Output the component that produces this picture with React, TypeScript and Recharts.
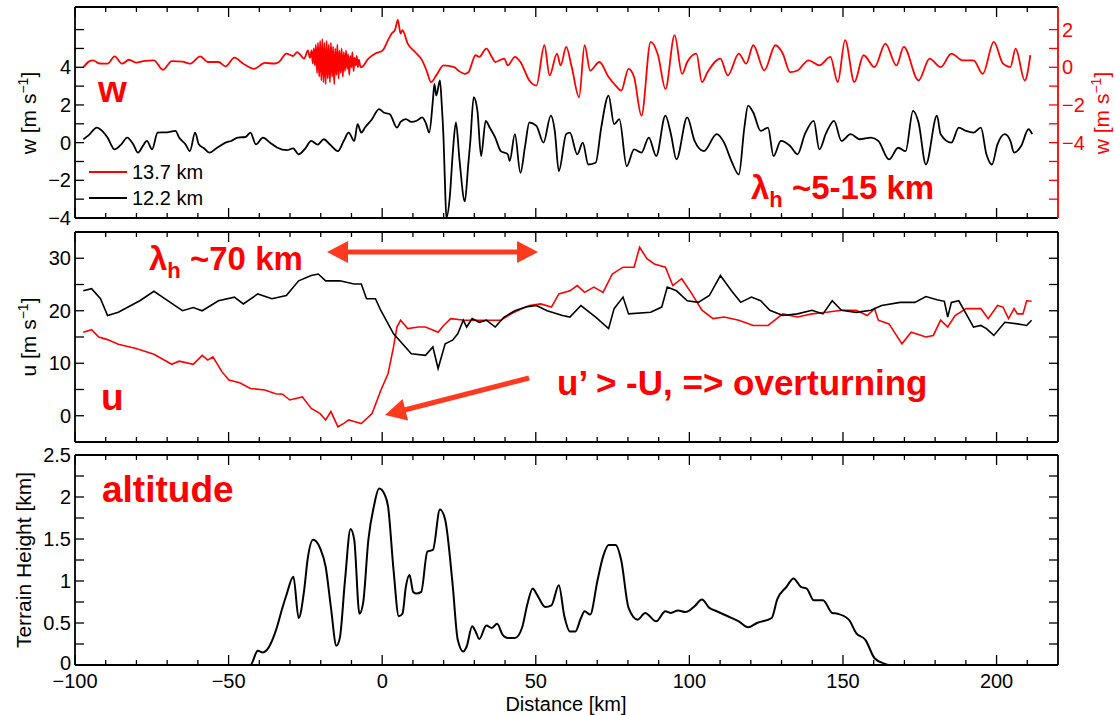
import React from "react";
import { LineChart, Line, XAxis, YAxis } from "recharts";

type Pt = [number, number];

const FONT = "'Liberation Sans', Arial, Helvetica, sans-serif";
const RED = "#ff0000";
const ARROW = "#ff3a1e";

// axes
const DISTANCE_DOMAIN = [-100, 220];
const DISTANCE_TICKS = [-100, -90, -80, -70, -60, -50, -40, -30, -20, -10, 0, 10, 20, 30, 40, 50, 60, 70, 80, 90, 100, 110, 120, 130, 140, 150, 160, 170, 180, 190, 200, 210];
const DISTANCE_LABELS = [-100, -50, 0, 50, 100, 150, 200];
const W_LEFT_TICKS = [-4, -3, -2, -1, 0, 1, 2, 3, 4, 5, 6];
const W_LEFT_LABELS = [-4, -2, 0, 2, 4];
const W_RIGHT_TICKS = [-7, -6, -5, -4, -3, -2, -1, 0, 1, 2];
const W_RIGHT_LABELS = [-4, -2, 0, 2];
const U_TICKS = [0, 5, 10, 15, 20, 25, 30];
const U_LABELS = [0, 10, 20, 30];
const Z_TICKS = [0, 0.25, 0.5, 0.75, 1, 1.25, 1.5, 1.75, 2, 2.25, 2.5];
const Z_LABELS = [0, 0.5, 1, 1.5, 2, 2.5];

// w at 12.2 km (left axis)
const W_122: Pt[] = [
  [-97.3, 0.18], [-95.5, 0.4], [-92.9, 0.8], [-91, 0.6], [-89.4, 0.27], [-87.1, -0.36], [-85, -0.1], [-83, 0.27], [-81, -0.1], [-79.5, -0.53],
  [-78, -0.2], [-76.6, 0.09], [-74.9, -0.36], [-73.1, 0.53], [-70, 0.55], [-67.3, 0.62], [-66.1, 0.27], [-64, -0.1], [-62.6, -0.45], [-60.9, 0.53],
  [-59.7, -0.09], [-58, -0.3], [-56.2, -0.53], [-54, -0.3], [-51, 0], [-49, 0.1], [-47, 0.27], [-44.5, 0.3], [-42.9, 0.53], [-41.1, -0.09],
  [-38.8, 0.27], [-36.5, 0], [-34.1, -0.27], [-31, -0.4], [-29, -0.3], [-27.2, -0.62], [-25, -0.3], [-23.1, 0.09], [-21, -0.1], [-19, 0.18],
  [-17, -0.1], [-14.4, -0.45], [-12.5, 0.1], [-10.9, 0.53], [-9.1, 0.09], [-8, 0.98], [-6.8, 0.53], [-5.6, 0.8], [-3.5, 1.2], [-1, 1.78],
  [0.5, 1.6], [2.5, 1.51], [4.8, 0.8], [6, 1.1], [7.7, 1.25], [9.5, 1.1], [11.2, 1.16], [13, 1.34], [14.3, 1.0], [15.3, 0.53],
  [16.5, 2.23], [17, 3.12], [17.6, 2.5], [18.8, 3.3], [19.4, 2.0], [20, 0.09], [20.5, -2.5], [20.9, -4.0], [22, -2.9], [23, -0.5],
  [24, 1.07], [25.2, -0.98], [26.9, -3.12], [28, -1.2], [28.7, 0.09], [29.8, 2.41], [31, 1.69], [32.2, -0.71], [33.7, 1.16], [35, 0.8],
  [36.8, 0.27], [38.6, -0.45], [40.9, -0.62], [41.5, -0.98], [43.2, 0.45], [45, -1.6], [46.5, -0.2], [47.9, 1.07], [50.2, 0.89], [52.5, 0],
  [54.9, 1.43], [56.2, 0.6], [57.5, -1.51], [59.9, 0.45], [61.1, 0.53], [63.5, -0.62], [65.3, 0], [67.1, -1.16], [69.5, -1.07], [71.3, 0.8],
  [73.7, 2.5], [75.5, 0.98], [77.2, 1.25], [79.6, -1.25], [82, -0.36], [84.4, -0.53], [86.8, 0.27], [89.2, -0.71], [92.2, 1.43], [94, 0.45],
  [95.8, -0.89], [99.3, 1.34], [101.7, 0.09], [104.7, -0.45], [108.9, 0.45], [111.3, 0], [113.7, -0.98], [116.1, -1.69], [117.9, 0.8], [119.1, 1.96],
  [120.8, 1.6], [123.2, 0.62], [125.6, 0.8], [127.4, -0.71], [129.8, 0.09], [132.8, -0.18], [135.2, -0.62], [137.6, 0.45], [140.5, 1.16], [142.3, -0.36],
  [144.5, 0.5], [147.1, 1.16], [149.5, 0.09], [152.5, 0.45], [155.5, 0.18], [159.1, 0.27], [161.5, 0.09], [165, -0.89], [168, -0.27], [170.4, -0.45],
  [172.8, 1.69], [174.6, 1.07], [177, -1.16], [180.6, 1.43], [181.8, 0.45], [185.3, 0], [187.7, 0.8], [190.1, 0.62], [192.5, 0.53], [194.9, 0.8],
  [196.7, -0.62], [198.5, -1.16], [200.3, -0.09], [202.7, 0.45], [204.5, 0.09], [205.7, -0.53], [208, -0.18], [210.4, 0.71], [211.6, 0.45],
];

// w at 13.7 km (right axis)
const W_137: Pt[] = [
  [-97.3, 0.0], [-95.5, 0.3], [-94.1, 0.37], [-92, 0.2], [-89.4, 0.19], [-87.1, 0.58], [-84.7, 0.19], [-82.4, 0.4], [-80, 0.25], [-77.8, 0.33],
  [-74.3, 0.37], [-71.4, -0.13], [-68.5, 0.33], [-65, 0.3], [-62.6, 0.19], [-59.2, 0.58], [-56.8, 0.28], [-53.3, 0.28], [-51, 0.05], [-48.1, 0.51],
  [-45.2, 0.19], [-41.7, -0.08], [-38.2, 0.23], [-35, 0.2], [-33.6, 0.28], [-31.2, 0.73], [-29, 0.6], [-27.7, 0.81], [-25.4, 0.46], [-24.2, 0.9],
  [-23.5, 0.5], [-23, 0.9], [-22.6, 0.2], [-22.3, 1.0], [-21.9, 0.1], [-21.6, 1.2], [-21.2, -0.3], [-20.9, 1.3], [-20.5, -0.5], [-20.2, 1.4],
  [-19.8, -0.7], [-19.5, 1.5], [-19.1, -0.8], [-18.8, 1.3], [-18.4, -0.9], [-18.1, 1.4], [-17.7, -0.6], [-17.4, 1.2], [-17, -0.8], [-16.7, 1.3],
  [-16.3, -0.5], [-16, 1.1], [-15.6, -0.9], [-15.3, 1.0], [-14.9, -0.4], [-14.6, 1.2], [-14.2, -0.6], [-13.9, 0.9], [-13.5, -0.3], [-13.2, 1.0],
  [-12.8, -0.5], [-12.5, 0.8], [-12.1, -0.2], [-11.8, 0.9], [-11.4, -0.1], [-11.1, 0.7], [-10.7, -0.4], [-10.4, 0.6], [-10, 0.0], [-9.7, 0.8],
  [-9.3, -0.2], [-9, 0.5], [-8.6, 0.1], [-8.3, 0.6], [-7.9, 0.0], [-7.6, 0.4], [-7.2, 0.1], [-6.8, 0.0], [-4.5, 0.46], [-2.2, 0.73],
  [0.2, 0.9], [1.9, 1.44], [3.1, 1.79], [4.2, 2.0], [5.1, 2.51], [6, 1.79], [6.6, 1.97], [8.3, 1.26], [10.7, 0.81], [13, 0.37],
  [14.5, -0.2], [15.9, -0.79], [17.6, -0.43], [20, 0.1], [23.4, 0.01], [25, -0.2], [26.9, -0.35], [28.1, -0.26], [30.4, 0.64], [31.6, 0.55],
  [33.9, 0.99], [35.7, 0.55], [36.8, 0.28], [39.7, 0.46], [40.9, 0.1], [43.2, 0.55], [45, 0.28], [47.9, -0.7], [50.2, -0.97], [52.8, 1.17],
  [54.5, -0.43], [56.9, 0.73], [58.1, 0.1], [59.9, 1.08], [61.7, 0.01], [64.1, -1.59], [65.9, 1.17], [67.7, -0.17], [70.7, 0.28], [73.7, -0.52],
  [76, -0.97], [77.8, -1.24], [80.2, -0.08], [82, -0.52], [84.4, -2.57], [87.4, 1.35], [89.8, 0.64], [92.2, -1.15], [95.2, 1.71], [97.6, -0.35],
  [99.3, 0.28], [102.3, 0.73], [104.1, -0.79], [105.9, -0.26], [110.1, 0.46], [112.5, -0.43], [116.1, 0.73], [118.5, 0.19], [120.8, 1.17], [124.4, -0.17],
  [128, 1.17], [130.4, 0.73], [132.8, -0.26], [135.2, -0.17], [138.8, 0.37], [142.3, 0.1], [145.9, 0.55], [148.3, -0.79], [150.7, 1.44], [153.7, -0.79],
  [156.7, 0.64], [160.3, 0.01], [163.8, 1.26], [167.4, 0.1], [169.8, 1.08], [174.6, -0.7], [178.2, 0.46], [181.8, 0.01], [185.3, 0.73], [188.9, 0.37],
  [192.5, 0.37], [195.5, -0.35], [199.1, 1.35], [202.1, 0.19], [204.5, 0.01], [206.2, 0.99], [209.2, -0.7], [211, 0.64],
];

// u at 12.2 km
const U_122: Pt[] = [
  [-97.3, 23.8], [-94.6, 24.2], [-91.7, 22.3], [-89.4, 19.1], [-85.9, 19.7], [-78.9, 21.9], [-74.3, 23.7], [-70.8, 22.3], [-65, 20.0], [-61.5, 20.6],
  [-58.6, 20.0], [-53.3, 21.9], [-48.1, 22.6], [-45.2, 21.3], [-40.5, 23.2], [-35.9, 22.3], [-31.2, 22.9], [-27.2, 25.7], [-23.1, 26.7], [-20.8, 27.0],
  [-18.4, 25.7], [-13.8, 25.7], [-9.1, 25.1], [-6.8, 25.1], [-5.1, 22.3], [-2.2, 22.3], [-0.4, 20.0], [3.7, 15.6], [6.6, 13.7], [9.5, 11.8],
  [14.1, 11.5], [16.5, 13.1], [18.2, 9.0], [20.5, 13.7], [22.9, 14.4], [24.6, 15.6], [26.4, 18.2], [27.5, 16.9], [29.3, 18.5], [31.6, 17.8],
  [33.9, 18.2], [36.8, 16.9], [39.7, 18.8], [43.2, 20.0], [46.7, 20.7], [50.2, 21.0], [53.7, 20.0], [58.7, 19.1], [61.1, 18.8], [64.7, 21.0],
  [69.5, 18.8], [73.7, 16.6], [75.5, 20.4], [78.4, 22.6], [80.2, 19.4], [87.4, 19.7], [91, 20.7], [92.8, 24.5], [95.8, 23.8], [99.3, 21.9],
  [102.9, 21.6], [106.5, 22.9], [110.1, 26.7], [113.7, 23.8], [116.7, 21.6], [120.2, 22.6], [123.2, 21.9], [126.2, 20.1], [130.4, 19.1], [135.2, 19.4],
  [139.9, 20.1], [143.5, 19.4], [146.5, 21.9], [149.5, 20.1], [154.3, 19.7], [159.1, 20.1], [162.6, 21.0], [168.6, 21.6], [173.4, 21.6], [177, 22.7],
  [180.6, 22.1], [183, 21.8], [184.1, 18.8], [185.3, 21.6], [187.7, 21.9], [190.1, 19.4], [192.5, 16.9], [194.9, 17.2], [196.7, 16.6], [199.1, 15.3],
  [202.7, 17.8], [206.8, 17.5], [209.8, 17.2], [211.4, 18.2],
];

// u at 13.7 km
const U_137: Pt[] = [
  [-97.3, 15.9], [-94.6, 16.4], [-92.3, 15.0], [-89.4, 14.5], [-85.9, 13.6], [-80.1, 12.8], [-74.3, 11.7], [-68.5, 9.8], [-66.1, 10.4], [-61.5, 9.8],
  [-58.6, 11.5], [-56.8, 10.6], [-55.1, 11.2], [-52.2, 8.4], [-49.9, 6.8], [-46.4, 6.3], [-42.9, 5.2], [-38.2, 4.9], [-34.7, 4.2], [-32.4, 4.1],
  [-30.1, 3.0], [-26, 3.6], [-23.1, 1.4], [-20.2, 0.4], [-18.4, -0.8], [-16.7, 0.8], [-14.4, -2.1], [-12.6, -1.5], [-10.9, -0.8], [-9.1, -1.1],
  [-6.8, -1.5], [-3.3, 0.4], [-0.4, 4.9], [1.9, 8.0], [3.7, 13.1], [4.8, 16.9], [6, 18.2], [8.3, 16.6], [11.8, 16.9], [14.1, 16.9],
  [18.2, 15.9], [20, 17.2], [22.3, 18.5], [26.9, 18.2], [32.7, 18.2], [38.6, 18.2], [42, 19.4], [45.5, 20.4], [47.9, 21.0], [51.6, 21.3],
  [55.1, 20.7], [57.5, 23.2], [61.1, 23.8], [63.5, 24.8], [65.9, 23.5], [68.9, 24.5], [71.9, 23.5], [74.9, 27.0], [78.4, 28.3], [82, 28.3],
  [83.8, 32.1], [86.2, 29.9], [88.6, 28.9], [92.2, 28.3], [94.6, 24.8], [97.5, 26.1], [100.5, 23.5], [104.1, 20.1], [107.7, 18.5], [111.3, 18.8],
  [116.1, 18.2], [120.8, 17.2], [125.6, 17.2], [130.4, 19.4], [135.2, 18.8], [139.9, 19.4], [144.7, 19.7], [149.5, 20.1], [154.3, 20.1], [157.9, 19.1],
  [160.3, 20.4], [161.5, 18.2], [165, 17.5], [169.2, 13.7], [172.2, 15.9], [177, 15.0], [179.4, 15.3], [181.8, 18.2], [184.1, 16.9], [186.5, 19.1],
  [190.1, 20.4], [194.9, 20.4], [197.3, 18.5], [200.3, 21.0], [202.1, 20.7], [203.9, 18.5], [205.7, 20.4], [206.8, 19.4], [208.6, 19.4], [209.8, 21.9],
  [211.4, 21.8],
];

// terrain height (km)
const TERRAIN: Pt[] = [
  [-97.3, 0], [-42.9, 0], [-40.5, 0.17], [-38.8, 0.15], [-37.1, 0.2], [-34.7, 0.4], [-32.4, 0.69], [-31.2, 0.83], [-28.9, 1.05], [-27.2, 0.56],
  [-25.4, 0.89], [-24.3, 1.25], [-22.5, 1.49], [-20.2, 1.39], [-18.4, 1.17], [-16.7, 0.69], [-14.9, 0.23], [-13.8, 0.32], [-12.1, 1.01], [-10.3, 1.62],
  [-9.1, 1.49], [-7.4, 0.61], [-6.2, 0.74], [-4.5, 1.49], [-2.7, 1.89], [-1, 2.1], [0.8, 2.03], [1.9, 1.89], [3.7, 1.13], [5.4, 0.58],
  [6.6, 0.61], [7.7, 0.93], [8.9, 1.07], [10.1, 0.87], [11.2, 0.85], [12.7, 0.87], [14.7, 1.35], [16.5, 1.37], [18.8, 1.85], [20.5, 1.73],
  [22.9, 0.97], [24.6, 0.3], [26.4, 0.16], [27.5, 0.22], [29.3, 0.46], [30.4, 0.4], [31.6, 0.31], [33.9, 0.47], [35.7, 0.44], [37.4, 0.49],
  [39.2, 0.36], [40.9, 0.32], [43.2, 0.32], [45.5, 0.44], [47.3, 0.73], [49, 0.91], [50.2, 0.85], [53.1, 0.69], [55.1, 0.71], [57.5, 0.95],
  [59.3, 0.58], [61.1, 0.4], [62.9, 0.4], [64.7, 0.56], [65.9, 0.64], [67.7, 0.6], [70.1, 1.01], [71.9, 1.29], [73.7, 1.43], [76, 1.43],
  [77.8, 1.25], [80.2, 0.68], [83.2, 0.54], [85.6, 0.62], [89.2, 0.52], [92.2, 0.64], [94, 0.62], [96.3, 0.65], [98.7, 0.63], [101.7, 0.7],
  [104.1, 0.78], [106.5, 0.68], [108.9, 0.64], [112.5, 0.58], [116.1, 0.52], [119.1, 0.45], [122, 0.5], [126.8, 0.56], [128.6, 0.78], [131.6, 0.93],
  [133.9, 1.03], [136.3, 0.93], [138.2, 0.91], [140.5, 0.77], [143.5, 0.77], [146.5, 0.62], [148.3, 0.61], [151.9, 0.54], [154.3, 0.38], [157.3, 0.3],
  [160.3, 0.08], [163.2, 0.02], [165, 0], [211.6, 0],
];

const rows = (pts: Pt[]) => pts.map(([x, y]) => ({ x, y }));
const fmt = (v: number) => (v < 0 ? "\u2212" + Math.abs(v) : String(v));

const PLOT_LEFT = 75;
const PLOT_RIGHT = 1058;
const PAGE_W = 1115;
const PAGE_H = 715;

function XTick(props: any) {
  const { x, y, payload, side, labels } = props;
  const v = payload.value;
  const major = v % 50 === 0;
  const len = major ? 10 : 5;
  const dir = side === "bottom" ? -1 : 1;
  const show = labels && DISTANCE_LABELS.includes(v);
  return (
    <g>
      <line x1={x} y1={y} x2={x} y2={y + dir * len} stroke="#000" strokeWidth={1.3} />
      {show ? (
        <text x={x} y={y + 23} textAnchor="middle" fontFamily={FONT} fontSize={20} fill="#000">
          {fmt(v)}
        </text>
      ) : null}
    </g>
  );
}

function YTick(props: any) {
  const { x, y, payload, side, labels, color, lift } = props;
  const v = payload.value;
  const dir = side === "left" ? 1 : -1;
  const show = labels && labels.includes(v);
  // the bottom label of the terrain axis sits a little higher, clear of the distance labels
  const dy = lift && v === 0 ? 5 : 7;
  return (
    <g>
      <line x1={x} y1={y} x2={x + dir * 9} y2={y} stroke={color} strokeWidth={1.3} />
      {show ? (
        <text
          x={side === "left" ? x - 4 : x + 4}
          y={y + dy}
          textAnchor={side === "left" ? "end" : "start"}
          fontFamily={FONT}
          fontSize={20}
          fill={color}
        >
          {fmt(v)}
        </text>
      ) : null}
    </g>
  );
}

interface PanelProps {
  top: number;
  bottom: number;
  xLabels: boolean;
  leftDomain: number[];
  leftTicks: number[];
  leftLabels: number[];
  rightDomain: number[];
  rightTicks: number[];
  rightLabels: number[];
  rightColor: string;
  children: React.ReactNode;
}

// every axis is 1px thick so it is drawn; margins take that pixel back
function Panel(p: PanelProps) {
  return (
    <div style={{ position: "absolute", left: 0, top: 0 }}>
      <LineChart
        width={PAGE_W}
        height={PAGE_H}
        margin={{ top: p.top - 1, bottom: PAGE_H - p.bottom - 1, left: PLOT_LEFT - 1, right: PAGE_W - PLOT_RIGHT - 1 }}
      >
        <XAxis
          xAxisId="b"
          dataKey="x"
          type="number"
          orientation="bottom"
          domain={DISTANCE_DOMAIN}
          ticks={DISTANCE_TICKS}
          interval={0}
          allowDataOverflow
          height={1}
          tickSize={0}
          tickMargin={0}
          tickLine={false}
          axisLine={{ stroke: "#000", strokeWidth: 1.8 }}
          tick={(t: any) => <XTick {...t} side="bottom" labels={p.xLabels} />}
        />
        <XAxis
          xAxisId="t"
          dataKey="x"
          type="number"
          orientation="top"
          domain={DISTANCE_DOMAIN}
          ticks={DISTANCE_TICKS}
          interval={0}
          allowDataOverflow
          height={1}
          tickSize={0}
          tickMargin={0}
          tickLine={false}
          axisLine={{ stroke: "#000", strokeWidth: 1.8 }}
          tick={(t: any) => <XTick {...t} side="top" labels={false} />}
        />
        <YAxis
          yAxisId="l"
          type="number"
          orientation="left"
          domain={p.leftDomain}
          ticks={p.leftTicks}
          interval={0}
          allowDataOverflow
          width={1}
          tickSize={0}
          tickMargin={0}
          tickLine={false}
          axisLine={{ stroke: "#000", strokeWidth: 1.8 }}
          tick={(t: any) => <YTick {...t} side="left" labels={p.leftLabels} color="#000" lift={p.xLabels} />}
        />
        <YAxis
          yAxisId="r"
          type="number"
          orientation="right"
          domain={p.rightDomain}
          ticks={p.rightTicks}
          interval={0}
          allowDataOverflow
          width={1}
          tickSize={0}
          tickMargin={0}
          tickLine={false}
          axisLine={{ stroke: p.rightColor, strokeWidth: 1.8 }}
          tick={(t: any) => <YTick {...t} side="right" labels={p.rightLabels} color={p.rightColor} />}
        />
        {p.children}
      </LineChart>
    </div>
  );
}

function Arrow({ x1, y1, x2, y2, both }: { x1: number; y1: number; x2: number; y2: number; both?: boolean }) {
  const dx = x2 - x1;
  const dy = y2 - y1;
  const len = Math.hypot(dx, dy);
  const ux = dx / len;
  const uy = dy / len;
  const hl = 21;
  const hw = 11;
  const head = (tx: number, ty: number, sx: number, sy: number) => {
    const bx = tx - sx * hl;
    const by = ty - sy * hl;
    return `${tx},${ty} ${bx - sy * hw},${by + sx * hw} ${bx + sy * hw},${by - sx * hw}`;
  };
  const s1x = both ? x1 + ux * (hl - 2) : x1;
  const s1y = both ? y1 + uy * (hl - 2) : y1;
  return (
    <g>
      <line x1={s1x} y1={s1y} x2={x2 - ux * (hl - 2)} y2={y2 - uy * (hl - 2)} stroke={ARROW} strokeWidth={5} />
      <polygon points={head(x2, y2, ux, uy)} fill={ARROW} />
      {both ? <polygon points={head(x1, y1, -ux, -uy)} fill={ARROW} /> : null}
    </g>
  );
}

function Overlay() {
  const bold = { fontFamily: FONT, fontWeight: 700, fill: RED } as const;
  const reg = { fontFamily: FONT, fontSize: 21, fill: "#000" } as const;
  return (
    <svg width={PAGE_W} height={PAGE_H} style={{ position: "absolute", left: 0, top: 0, pointerEvents: "none" }}>
      {/* axis titles */}
      <text {...reg} transform="translate(36,113) rotate(-90)" textAnchor="middle">
        w [m s<tspan dy={-8} fontSize={14}>{"\u22121"}</tspan><tspan dy={8}>]</tspan>
      </text>
      <text {...reg} fill={RED} transform="translate(1109,113) rotate(-90)" textAnchor="middle">
        w [m s<tspan dy={-8} fontSize={14}>{"\u22121"}</tspan><tspan dy={8}>]</tspan>
      </text>
      <text {...reg} transform="translate(36,337) rotate(-90)" textAnchor="middle">
        u [m s<tspan dy={-8} fontSize={14}>{"\u22121"}</tspan><tspan dy={8}>]</tspan>
      </text>
      <text {...reg} transform="translate(31,560) rotate(-90)" textAnchor="middle">
        Terrain Height [km]
      </text>
      <text {...reg} fontSize={20} x={566} y={711} textAnchor="middle">
        Distance [km]
      </text>

      {/* legend */}
      <line x1={89} y1={172} x2={127} y2={172} stroke={RED} strokeWidth={1.8} />
      <text {...reg} fontSize={20} x={132} y={179}>13.7 km</text>
      <line x1={89} y1={198} x2={127} y2={198} stroke="#000" strokeWidth={1.8} />
      <text {...reg} fontSize={20} x={132} y={205}>12.2 km</text>

      {/* panel annotations */}
      <text {...bold} fontSize={37} x={98} y={102}>w</text>
      <text {...bold} fontSize={33} x={751} y={199}>
        λ<tspan dy={8} fontSize={22}>h</tspan><tspan dy={-8}> ~5-15 km</tspan>
      </text>
      <text {...bold} fontSize={33} x={149} y={270}>
        λ<tspan dy={8} fontSize={22}>h</tspan><tspan dy={-8}> ~70 km</tspan>
      </text>
      <Arrow x1={327} y1={252} x2={538} y2={252} both />
      <text {...bold} fontSize={37} x={101} y={410}>u</text>
      <Arrow x1={529} y1={378} x2={385} y2={415} />
      <text {...bold} fontSize={35} x={557} y={395}>u’ &gt; -U, =&gt; overturning</text>
      <text {...bold} fontSize={37} x={102} y={502}>altitude</text>
    </svg>
  );
}

export default function App() {
  return (
    <div style={{ position: "fixed", left: 0, top: 0, width: PAGE_W, height: PAGE_H, background: "#fff", overflow: "hidden" }}>
      <Panel
        top={7}
        bottom={218}
        xLabels={false}
        leftDomain={[-4, 7.2]}
        leftTicks={W_LEFT_TICKS}
        leftLabels={W_LEFT_LABELS}
        rightDomain={[-8, 3.2]}
        rightTicks={W_RIGHT_TICKS}
        rightLabels={W_RIGHT_LABELS}
        rightColor={RED}
      >
        <Line xAxisId="b" yAxisId="l" data={rows(W_122)} dataKey="y" type="monotone" dot={false} stroke="#000" strokeWidth={1.8} isAnimationActive={false} />
        <Line xAxisId="b" yAxisId="r" data={rows(W_137)} dataKey="y" type="monotone" dot={false} stroke={RED} strokeWidth={1.8} isAnimationActive={false} />
      </Panel>
      <Panel
        top={232}
        bottom={442}
        xLabels={false}
        leftDomain={[-5, 35]}
        leftTicks={U_TICKS}
        leftLabels={U_LABELS}
        rightDomain={[-5, 35]}
        rightTicks={U_TICKS}
        rightLabels={[]}
        rightColor="#000"
      >
        <Line xAxisId="b" yAxisId="l" data={rows(U_137)} dataKey="y" type="linear" dot={false} stroke={RED} strokeWidth={1.6} isAnimationActive={false} />
        <Line xAxisId="b" yAxisId="l" data={rows(U_122)} dataKey="y" type="linear" dot={false} stroke="#000" strokeWidth={1.6} isAnimationActive={false} />
      </Panel>
      <Panel
        top={455}
        bottom={665}
        xLabels={true}
        leftDomain={[0, 2.5]}
        leftTicks={Z_TICKS}
        leftLabels={Z_LABELS}
        rightDomain={[0, 2.5]}
        rightTicks={Z_TICKS}
        rightLabels={[]}
        rightColor="#000"
      >
        <Line xAxisId="b" yAxisId="l" data={rows(TERRAIN)} dataKey="y" type="monotone" dot={false} stroke="#000" strokeWidth={2} isAnimationActive={false} />
      </Panel>
      <Overlay />
    </div>
  );
}
